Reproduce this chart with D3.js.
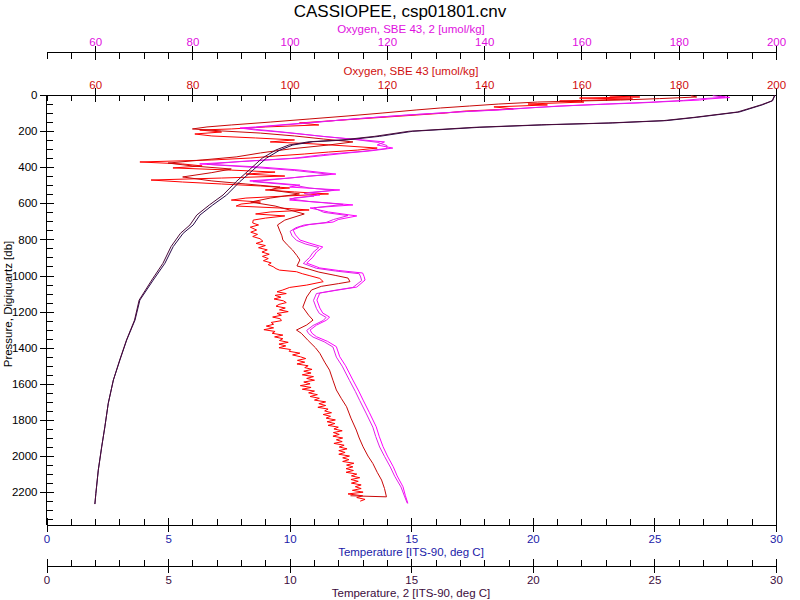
<!DOCTYPE html>
<html>
<head>
<meta charset="utf-8">
<script src="https://cdn.jsdelivr.net/npm/d3@7"></script>
<style>
  body { margin: 0; background: #fff; }
  text { font-family: "Liberation Sans", Arial, sans-serif; }
</style>
</head>
<body>
<div id="chart"></div>
<script>
// ---- data: [pressure (db), value] ----
const temperature = [
  [0,29.96],[32,29.86],[54,29.45],[94,28.5],[124,26.72],[142,25.49],[155,23.28],[165,20.56],[179,17.82],
  [201,15.06],[229,13.7],[249,12.34],[259,10.95],[277,10.13],[305,9.6],[349,9.05],[416,8.49],[480,7.95],
  [554,7.41],[609,6.84],[665,6.31],[720,6.03],[766,5.62],[840,5.21],[932,4.87],[1025,4.39],[1136,3.84],
  [1247,3.64],[1357,3.30],[1468,3.02],[1579,2.75],[1708,2.54],[1838,2.40],[1949,2.27],[2078,2.13],
  [2207,2.03],[2266,1.99]
];
const temperature2 = [
  [0,29.95],[32,29.84],[54,29.40],[94,28.42],[124,26.62],[142,25.36],[155,23.1],[165,20.35],[179,17.6],
  [201,14.9],[229,13.5],[249,12.15],[259,10.8],[277,9.97],[305,9.43],[349,8.88],[416,8.33],[480,7.8],
  [554,7.26],[609,6.7],[665,6.18],[720,5.9],[766,5.51],[840,5.12],[932,4.79],[1025,4.33],[1136,3.81],
  [1247,3.62],[1357,3.29],[1468,3.01],[1579,2.75],[1708,2.54],[1838,2.40],[1949,2.27],[2078,2.13],
  [2207,2.03],[2266,1.99]
];
// oxygen, down cast (noisy)
const oxygenDown = [
  [6,165.8],[11,172.0],[17,159.6],[22,170.5],[28,163],[33,155.5],[39,160.5],[50,149],[55,153],[66,142],
  [77,146],[89,136],[100,132],[111,126],[122,120],[133,114],[144,108],[155,102],[166,106],[177,95],
  [188,88],[194,81.5],[205,86],[216,80.5],[227,84],[238,93],[249,101],[260,96],[271,105],[283,112],
  [294,118],[305,114],[316,108],[327,103],[338,97],[349,92],[360,84],[371,69.2],[382,78],[393,82],
  [404,76],[416,88],[427,97],[438,91],[449,99],[460,86],[471,71.5],[482,78],[493,86],[504,94],
  [515,100],[526,95],[537,101],[548,108],[560,99],[571,91],[582,88],[593,94],[604,90],[615,89],
  [626,98],[637,104],[648,96],[659,93],[670,99],[682,95],[693,92.5],[709,92.4],[720,93.6],[732,91.9],
  [748,93.2],[760,92.0],[772,93.4],[784,92.4],[796,93.9],[810,94.5],[822,93.1],[834,95.0],[846,93.6],
  [858,95.4],[870,94.3],[882,95.8],[894,94.4],[906,95.6],[918,94.6],[930,96.2],[940,95.6],[951,96.6],
  [962,97.2],[970,97.9],[979,101.4],[990,102.6],[1000,104],[1016,106.2],[1034,106.9],[1053,103.5],[1066,100],
  [1080,98.6],[1090,97.4],[1100,99.3],[1110,97.0],[1120,98.2],[1130,96.8],[1140,98.7],[1150,99.3],
  [1160,97.8],[1170,97.2],[1180,99.1],[1190,97.9],[1200,99.7],[1210,97.4],[1220,98.3],[1230,96.5],
  [1240,98.1],[1250,98.3],[1260,96.2],[1270,96.7],[1280,95.2],[1290,96.7],[1300,94.7],[1310,97.0],
  [1320,96.4],[1330,98.6],[1340,96.9],[1350,98.6],[1360,97.9],[1370,99.7],[1380,97.8],[1390,99.2],
  [1400,97.8],[1410,100.2],[1420,99.9],[1430,102.1],[1440,100.6],[1450,102.2],[1460,103.3],[1470,101.6],
  [1480,103.1],[1490,101.5],[1500,103.8],[1510,103.1],[1520,104.6],[1530,102.9],[1540,104.4],[1550,102.6],
  [1560,104.9],[1570,103.5],[1580,105.1],[1590,102.9],[1600,104.2],[1610,102.2],[1620,104.4],[1630,102.6],
  [1640,105.1],[1650,103.9],[1660,105.7],[1670,104.2],[1680,106.1],[1690,105.1],[1700,107.4],[1710,106.0],
  [1720,107.4],[1730,105.8],[1740,107.9],[1750,107.2],[1760,108.6],[1770,106.9],[1780,108.4],[1790,107.5],
  [1800,109.4],[1810,107.7],[1820,109.3],[1830,107.9],[1840,110.0],[1850,109.1],[1860,110.8],[1870,109.0],
  [1880,110.2],[1890,108.9],[1900,110.9],[1910,109.6],[1920,110.8],[1930,109.1],[1940,111.2],[1950,110.2],
  [1960,111.8],[1970,110.1],[1980,111.4],[1990,110.1],[2000,112.3],[2010,110.9],[2020,112.2],[2030,110.9],
  [2040,113.2],[2050,111.7],[2060,113.0],[2070,111.6],[2080,113.1],[2090,111.6],[2100,113.8],[2110,112.7],
  [2120,114.4],[2130,112.6],[2140,114.1],[2150,112.7],[2160,114.7],[2170,113.5],[2180,114.7],[2190,112.9],
  [2200,115.1],[2210,112.0],[2220,115.0],[2230,113.8],[2240,115.5],[2250,114.5]
];
// oxygen, up cast
const oxygenUp = [
  [4,182.5],[11,183.7],[20,176],[28,168],[33,160],[39,151],[50,143],[61,137],[72,131],[83,126],[100,119],
  [116,112],[133,104],[150,96],[166,88],[177,83],[188,80],[199,86],[211,94],[227,101],[244,107],[260,113],
  [277,108],[299,100],[321,94],[343,89],[360,82],[377,75],[393,80],[410,88],[430,84],[454,78],[476,84],
  [493,91],[510,98],[526,96],[548,102],[571,96],[593,92],[615,97],[637,100],[659,103],[693,99],[720,97.5],
  [748,97.9],[780,98.4],[803,98.6],[830,99.5],[859,100.6],[890,101.5],[914,102.1],[947,101.5],[965,104],
  [981,106],[1000,109.5],[1014,112.0],[1034,112.4],[1045,110],[1060,106.5],[1080,104.5],[1119,103.5],
  [1175,102.7],[1220,103.9],[1247,104.8],[1274,103.5],[1302,101.4],[1320,102.4],[1360,103.8],[1400,105.3],
  [1431,106.2],[1480,107.2],[1524,108.2],[1580,108.9],[1634,109.6],[1680,110.6],[1727,111.7],[1790,112.6],
  [1856,113.7],[1900,114.3],[1949,115.1],[2000,116.1],[2041,117.1],[2090,118.0],[2133,118.9],[2180,119.5],
  [2226,119.9],[2220,112.5]
];
// oxygen sensor 2, down cast
const oxygen2Down = [
  [6,188.4],[14,190.5],[22,186],[28,184.3],[36,178],[44,172],[52,164],[61,155.5],[72,149],[83,143.2],
  [92,136],[100,130.8],[111,124],[122,118.5],[133,113],[144,108.2],[155,103],[166,98],[177,93],[183,89.8],
  [194,93],[205,98],[216,102.1],[227,106],[238,110.3],[249,115],[260,119.5],[277,118],[294,121.2],
  [310,116.5],[321,112],[332,108.2],[349,102.1],[366,91.8],[382,81.5],[399,93.9],[416,102.1],[438,109.5],
  [449,104],[460,100],[476,91.8],[499,102.1],[510,100],[526,110.3],[540,104],[554,106.2],[570,101],
  [582,100],[598,108],[609,113],[626,104.2],[648,108],[670,113.8],[690,110],[704,108.9],[718,104],
  [731,102.1],[748,100.7],[775,101.2],[803,102.1],[820,104],[842,106.8],[870,105.5],[898,104.8],
  [931,103.5],[958,106.2],[972,110],[986,115],[1005,115.3],[1025,115.5],[1064,113.8],[1080,110],
  [1097,106.2],[1136,105.6],[1180,106.2],[1208,106.8],[1230,108.2],[1247,107.6],[1275,105.5],[1302,104.2],
  [1320,104.6],[1339,105.5],[1365,107.8],[1394,109.6],[1450,110.3],[1500,111.5],[1579,113.0],[1640,114.2],
  [1690,115.1],[1760,116.4],[1838,117.8],[1890,118.4],[1948,119.2],[2000,120.1],[2059,121.3],[2110,122.1],
  [2170,123.3],[2220,123.8],[2262,124.3]
];
// oxygen sensor 2, up cast
const oxygen2Up = [
  [4,187],[12,189.5],[20,185],[30,181],[40,174],[50,165],[60,157],[70,150],[80,144],[95,134],[110,125],
  [125,117],[140,110],[155,104],[170,97],[185,91],[198,96],[212,101],[230,107],[245,113],[262,118],
  [280,120],[296,120],[312,115],[330,107],[350,101],[368,90],[384,83],[400,92],[418,101],[440,108.5],
  [452,103],[465,98],[480,92.5],[500,101],[515,104],[528,109],[545,103],[560,105],[575,100],[590,104],
  [606,111],[625,105],[650,107],[668,112],[690,109],[706,107.5],[720,103],[735,101.3],[755,100.1],
  [780,100.5],[805,101.4],[825,103.2],[845,106],[872,104.8],[900,104.1],[933,102.8],[960,105.5],
  [975,109.4],[990,114.3],[1008,114.6],[1028,114.8],[1066,113],[1082,109.3],[1100,105.5],[1138,104.9],
  [1182,105.5],[1210,106.1],[1232,107.5],[1249,106.9],[1277,104.8],[1304,103.5],[1322,103.9],[1341,104.8],
  [1367,107.1],[1396,108.9],[1452,109.6],[1502,110.8],[1581,112.3],[1642,113.5],[1692,114.4],[1762,115.7],
  [1840,117.1],[1892,117.7],[1950,118.5],[2002,119.5],[2061,120.7],[2112,121.6],[2172,122.9],[2222,123.6],
  [2262,124.2]
];

// axis ticks
const tempMinor = d3.range(0, 31, 1);
const tempMajor = [0, 5, 10, 15, 20, 25, 30];
const oxyMinor = d3.range(50, 201, 5);
const oxyMajor = [60, 80, 100, 120, 140, 160, 180, 200];
const presMinor = d3.range(0, 2351, 50);
const presMajor = [0, 200, 400, 600, 800, 1000, 1200, 1400, 1600, 1800, 2000, 2200];

const width = 800, height = 600;
const plotLeft = 46.5, plotRight = 776, plotTop = 95, plotBottom = 525;

const svg = d3.select('#chart').append('svg')
  .attr('width', width)
  .attr('height', height);

const xTemp = d3.scaleLinear().domain([0, 30]).range([plotLeft, plotRight]);
const xOxy = d3.scaleLinear().domain([50, 200]).range([plotLeft, plotRight]);
const yPres = d3.scaleLinear().domain([0, 2382]).range([plotTop, plotBottom]);

const fontSize = '11.5px';

// horizontal axis: minor ticks point into the plot, major ticks cross the line
function drawHAxis(y, scale, minors, majors, color, ticksDown, labelsAbove) {
  const g = svg.append('g').attr('transform', `translate(0,${y})`);

  const minorG = g.append('g')
    .call(d3.axisBottom(scale).tickValues(minors).tickSize(ticksDown ? 6 : -6).tickFormat(''));
  minorG.select('.domain').remove();
  minorG.selectAll('.tick line').attr('stroke', '#000').attr('shape-rendering', 'crispEdges');

  const axisFn = labelsAbove ? d3.axisTop : d3.axisBottom;
  const majorG = g.append('g')
    .call(axisFn(scale).tickValues(majors).tickSize(7).tickFormat(d3.format('d')));
  majorG.select('.domain').remove();
  majorG.selectAll('.tick line')
    .attr('y1', -7).attr('y2', 7)
    .attr('stroke', '#000').attr('shape-rendering', 'crispEdges');
  majorG.selectAll('.tick text')
    .attr('fill', color)
    .attr('y', labelsAbove ? -6.5 : 18)
    .attr('dy', 0)
    .style('font-size', fontSize)
    .style('font-family', '"Liberation Sans", Arial, sans-serif');

  g.append('line')
    .attr('x1', scale.range()[0]).attr('x2', scale.range()[1])
    .attr('y1', 0).attr('y2', 0)
    .attr('stroke', '#000').attr('shape-rendering', 'crispEdges');
}

function axisTitle(x, y, label, color) {
  svg.append('text')
    .attr('x', x).attr('y', y)
    .attr('text-anchor', 'middle')
    .attr('fill', color)
    .style('font-size', fontSize)
    .text(label);
}

// top axes (oxygen 2, oxygen)
drawHAxis(52.5, xOxy, oxyMinor, oxyMajor, '#e010e0', true, true);
drawHAxis(plotTop, xOxy, oxyMinor, oxyMajor, '#d01010', true, true);
// bottom axes (temperature, temperature 2)
drawHAxis(plotBottom, xTemp, tempMinor, tempMajor, '#1a1aa8', false, false);
drawHAxis(566, xTemp, tempMinor, tempMajor, '#3c0c3c', false, false);

// pressure axis
const pg = svg.append('g').attr('transform', `translate(${plotLeft},0)`);
const pMinor = pg.append('g')
  .call(d3.axisLeft(yPres).tickValues(presMinor).tickSize(-6).tickFormat(''));
pMinor.select('.domain').remove();
pMinor.selectAll('.tick line').attr('stroke', '#000').attr('shape-rendering', 'crispEdges');
const pMajor = pg.append('g')
  .call(d3.axisLeft(yPres).tickValues(presMajor).tickSize(7).tickFormat(d3.format('d')));
pMajor.select('.domain').remove();
pMajor.selectAll('.tick line')
  .attr('x1', 7).attr('x2', -7)
  .attr('stroke', '#000').attr('shape-rendering', 'crispEdges');
pMajor.selectAll('.tick text')
  .attr('x', -9)
  .attr('fill', '#000')
  .style('font-size', fontSize)
  .style('font-family', '"Liberation Sans", Arial, sans-serif');
pg.append('line')
  .attr('x1', 0).attr('x2', 0)
  .attr('y1', plotTop).attr('y2', plotBottom)
  .attr('stroke', '#000').attr('shape-rendering', 'crispEdges');

// right frame
svg.append('line')
  .attr('x1', plotRight).attr('x2', plotRight)
  .attr('y1', plotTop).attr('y2', plotBottom)
  .attr('stroke', '#000').attr('shape-rendering', 'crispEdges');

// titles
svg.append('text')
  .attr('x', 400).attr('y', 17)
  .attr('text-anchor', 'middle')
  .style('font-size', '17px')
  .text('CASSIOPEE, csp01801.cnv');
axisTitle(411, 33, 'Oxygen, SBE 43, 2 [umol/kg]', '#e010e0');
axisTitle(411, 75, 'Oxygen, SBE 43 [umol/kg]', '#d01010');
axisTitle(411, 556, 'Temperature [ITS-90, deg C]', '#1a1aa8');
axisTitle(411, 597, 'Temperature, 2 [ITS-90, deg C]', '#3c0c3c');
svg.append('text')
  .attr('transform', 'translate(12,304) rotate(-90)')
  .attr('text-anchor', 'middle')
  .style('font-size', fontSize)
  .text('Pressure, Digiquartz [db]');

// traces
const oxyLine = d3.line().x(d => xOxy(d[1])).y(d => yPres(d[0]));
const tempLine = d3.line().x(d => xTemp(d[1])).y(d => yPres(d[0]));

const traces = [
  { data: oxygenDown, line: oxyLine, color: '#ff0000' },
  { data: oxygenUp, line: oxyLine, color: '#c80808' },
  { data: oxygen2Down, line: oxyLine, color: '#ff00ff' },
  { data: oxygen2Up, line: oxyLine, color: '#e020e8' },
  { data: temperature, line: tempLine, color: '#2a0a4a' },
  { data: temperature2, line: tempLine, color: '#4a0a3a' }
];

svg.append('g').selectAll('path')
  .data(traces)
  .enter()
  .append('path')
    .attr('d', d => d.line(d.data))
    .attr('fill', 'none')
    .attr('stroke', d => d.color)
    .attr('stroke-width', 1);
</script>
</body>
</html>
